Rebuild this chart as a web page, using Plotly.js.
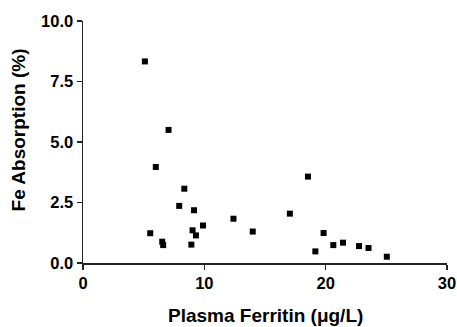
<!DOCTYPE html>
<html>
<head>
<meta charset="utf-8">
<script src="https://cdn.plot.ly/plotly-3.0.1.min.js"></script>
<style>html,body{margin:0;padding:0;background:#fff;}#chart{width:457px;height:327px;}</style>
</head>
<body>
<div id="chart"></div>
<script>
const ferritin = [5.1, 7.05, 6.0, 8.35, 7.93, 9.15, 5.54, 6.53, 6.61, 9.03, 9.31, 8.93, 9.89, 12.4, 13.99, 17.05, 18.54, 19.83, 19.15, 20.63, 21.43, 22.75, 23.53, 25.04];
const absorption = [8.33, 5.5, 3.97, 3.07, 2.36, 2.18, 1.23, 0.88, 0.74, 1.35, 1.14, 0.76, 1.55, 1.83, 1.30, 2.04, 3.57, 1.24, 0.48, 0.74, 0.84, 0.70, 0.62, 0.26];
const xTicks = [0, 10, 20, 30];
const xTickText = ["0", "10", "20", "30"];
const yTicks = [0, 2.5, 5, 7.5, 10];
const yTickText = ["0.0", "2.5", "5.0", "7.5", "10.0"];
const xTitle = "Plasma Ferritin (μg/L)";
const yTitle = "Fe Absorption (%)";

const fam = "Liberation Sans, Arial, sans-serif";
const tickFont = {family: fam, size: 16.5, color: "#000", weight: 700};
const titleFont = {family: fam, size: 19, color: "#000"};
const b = s => "<b>" + s + "</b>";

Plotly.newPlot("chart", [{
  x: ferritin, y: absorption, type: "scatter", mode: "markers",
  marker: {symbol: "square", size: 6, color: "#000"},
  cliponaxis: false, hoverinfo: "none"
}], {
  width: 457, height: 327,
  margin: {l: 83, r: 10, t: 21, b: 64},
  paper_bgcolor: "#fff", plot_bgcolor: "#fff",
  showlegend: false,
  font: tickFont,
  xaxis: {
    range: [0, 30], tickvals: xTicks, ticktext: xTickText.map(b),
    showgrid: false, zeroline: false, showline: true, linecolor: "#222", linewidth: 1.5,
    ticks: "outside", ticklen: 5, tickwidth: 1.5, tickcolor: "#222",
    tickfont: tickFont
  },
  yaxis: {
    range: [0, 10], tickvals: yTicks, ticktext: yTickText.map(b),
    showgrid: false, zeroline: false, showline: true, linecolor: "#222", linewidth: 1.5,
    ticks: "outside", ticklen: 5, tickwidth: 1.5, tickcolor: "#222",
    tickfont: tickFont
  },
  annotations: [
    {text: b(xTitle), xref: "paper", yref: "paper", x: 0.5, y: -0.219,
     xanchor: "center", yanchor: "middle", showarrow: false, font: titleFont},
    {text: b(yTitle), xref: "paper", yref: "paper", x: -0.1786, y: 0.552,
     xanchor: "center", yanchor: "middle", textangle: -90, showarrow: false, font: titleFont}
  ]
}, {staticPlot: true});
</script>
</body>
</html>
